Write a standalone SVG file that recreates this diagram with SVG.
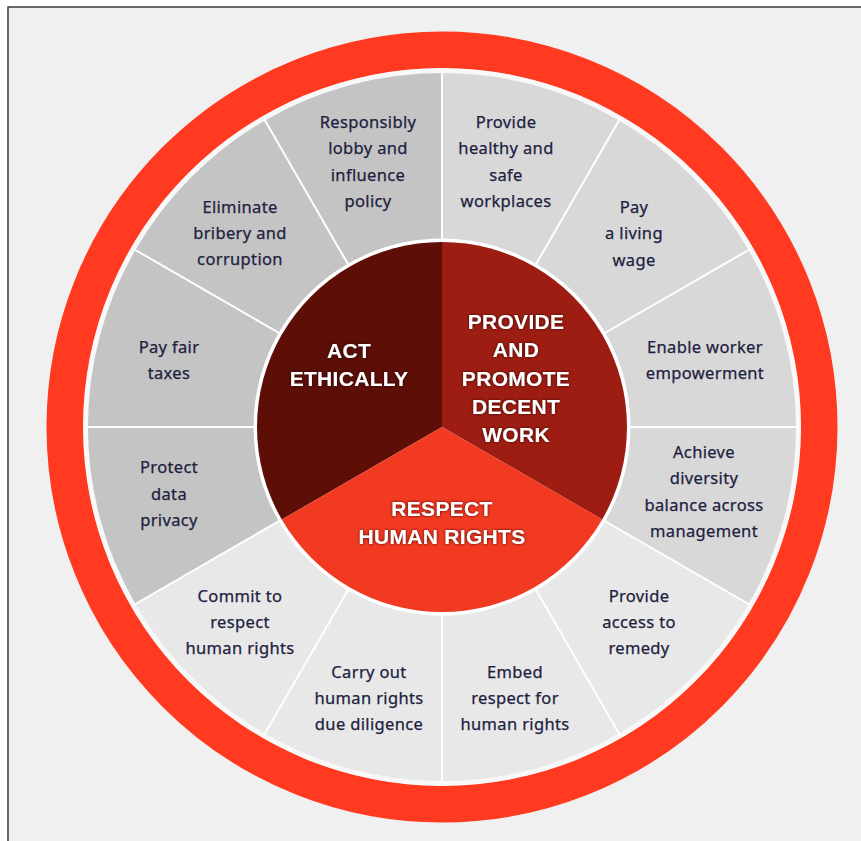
<svg xmlns="http://www.w3.org/2000/svg" width="861" height="841" viewBox="0 0 861 841">
<style>
.t{font-family:"Noto Sans","Liberation Sans",sans-serif;font-size:16.5px;fill:#1c2140;stroke:#1c2140;stroke-width:0.25px;text-anchor:middle;letter-spacing:0.35px}
.h{font-family:"Liberation Sans",Arial,sans-serif;font-weight:bold;font-size:21px;fill:#ffffff;text-anchor:middle;letter-spacing:0.3px}
.div{stroke:#ffffff;stroke-width:2}
</style>
<defs>
<filter id="glow" x="-20%" y="-40%" width="140%" height="180%">
<feDropShadow dx="0" dy="0" stdDeviation="1.6" flood-color="#2a0000" flood-opacity="0.9"/>
</filter>
</defs>
<rect x="0" y="0" width="861" height="841" fill="#ffffff"/>
<rect x="8" y="7" width="853" height="834" fill="#f0f0f0"/>
<path d="M8 841 V7 H861" fill="none" stroke="#3a3a3a" stroke-width="1.5"/>

<circle cx="442" cy="427" r="377" fill="none" stroke="#ff3a20" stroke-width="37"/>
<circle cx="442" cy="427" r="359" fill="#f8f8f8"/>

<g id="outer-segments">
<path d="M442 427 L442 73 A354 354 0 0 1 748.6 604 Z" fill="#d8d8d8"/>
<path d="M442 427 L748.6 604 A354 354 0 0 1 135.4 604 Z" fill="#e8e8e8"/>
<path d="M442 427 L135.4 604 A354 354 0 0 1 442 73 Z" fill="#c4c4c4"/>
</g>

<g id="connectors">
<line class="div" x1="442" y1="240" x2="442" y2="72"/>
<line class="div" x1="535.5" y1="265.1" x2="620" y2="118.7"/>
<line class="div" x1="604" y1="333.5" x2="750.3" y2="249"/>
<line class="div" x1="629" y1="427" x2="797" y2="427"/>
<line class="div" x1="604" y1="520.5" x2="750.3" y2="605"/>
<line class="div" x1="535.5" y1="588.9" x2="620" y2="735.3"/>
<line class="div" x1="442" y1="614" x2="442" y2="782"/>
<line class="div" x1="348.5" y1="588.9" x2="264" y2="735.3"/>
<line class="div" x1="280" y1="520.5" x2="133.7" y2="605"/>
<line class="div" x1="255" y1="427" x2="87" y2="427"/>
<line class="div" x1="280" y1="333.5" x2="133.7" y2="249"/>
<line class="div" x1="348.5" y1="265.1" x2="264" y2="118.7"/>
</g>

<circle cx="442" cy="427" r="188.5" fill="#ffffff"/>

<g id="act-ethically">
<path d="M442 427 L281.8 519.5 A185 185 0 0 1 442 242 Z" fill="#5c0e07"/>
<text class="h" filter="url(#glow)"><tspan x="349" y="358">ACT</tspan><tspan x="349" y="386">ETHICALLY</tspan></text>
</g>
<g id="decent-work">
<path d="M442 427 L442 242 A185 185 0 0 1 602.2 519.5 Z" fill="#9e1d12"/>
<text class="h" filter="url(#glow)"><tspan x="516" y="329">PROVIDE</tspan><tspan x="516" y="357">AND</tspan><tspan x="516" y="386">PROMOTE</tspan><tspan x="516" y="414">DECENT</tspan><tspan x="516" y="442">WORK</tspan></text>
</g>
<g id="human-rights">
<path d="M442 427 L602.2 519.5 A185 185 0 0 1 281.8 519.5 Z" fill="#f23a22"/>
<text class="h" filter="url(#glow)"><tspan x="442" y="516">RESPECT</tspan><tspan x="442" y="544">HUMAN RIGHTS</tspan></text>
</g>

<g id="seg-lobby"><text class="t"><tspan x="368" y="128">Responsibly</tspan><tspan x="368" y="154">lobby and</tspan><tspan x="368" y="181">influence</tspan><tspan x="368" y="207">policy</tspan></text></g>
<g id="seg-workplaces"><text class="t"><tspan x="506" y="128">Provide</tspan><tspan x="506" y="154">healthy and</tspan><tspan x="506" y="181">safe</tspan><tspan x="506" y="207">workplaces</tspan></text></g>
<g id="seg-bribery"><text class="t"><tspan x="240" y="213">Eliminate</tspan><tspan x="240" y="239">bribery and</tspan><tspan x="240" y="265">corruption</tspan></text></g>
<g id="seg-wage"><text class="t"><tspan x="634" y="213">Pay</tspan><tspan x="634" y="239">a living</tspan><tspan x="634" y="266">wage</tspan></text></g>
<g id="seg-taxes"><text class="t"><tspan x="169" y="353">Pay fair</tspan><tspan x="169" y="379">taxes</tspan></text></g>
<g id="seg-empowerment"><text class="t"><tspan x="705" y="353">Enable worker</tspan><tspan x="705" y="379">empowerment</tspan></text></g>
<g id="seg-privacy"><text class="t"><tspan x="169" y="473">Protect</tspan><tspan x="169" y="500">data</tspan><tspan x="169" y="526">privacy</tspan></text></g>
<g id="seg-diversity"><text class="t"><tspan x="704" y="458">Achieve</tspan><tspan x="704" y="484">diversity</tspan><tspan x="704" y="511">balance across</tspan><tspan x="704" y="537">management</tspan></text></g>
<g id="seg-commit"><text class="t"><tspan x="240" y="602">Commit to</tspan><tspan x="240" y="628">respect</tspan><tspan x="240" y="654">human rights</tspan></text></g>
<g id="seg-remedy"><text class="t"><tspan x="639" y="602">Provide</tspan><tspan x="639" y="628">access to</tspan><tspan x="639" y="654">remedy</tspan></text></g>
<g id="seg-diligence"><text class="t"><tspan x="369" y="678">Carry out</tspan><tspan x="369" y="704">human rights</tspan><tspan x="369" y="730">due diligence</tspan></text></g>
<g id="seg-embed"><text class="t"><tspan x="515" y="678">Embed</tspan><tspan x="515" y="704">respect for</tspan><tspan x="515" y="730">human rights</tspan></text></g>
</svg>
